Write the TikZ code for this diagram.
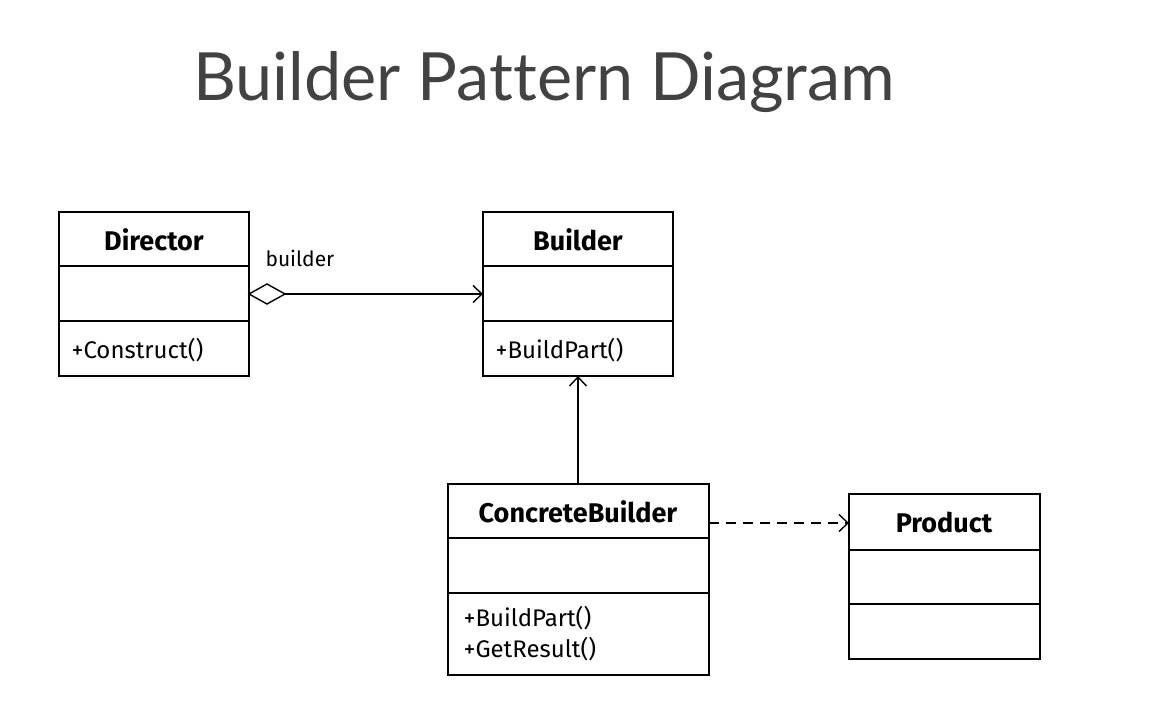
\documentclass[tikz,border=0pt]{standalone}
\usepackage{fontspec}
\setmainfont{Fira Sans}
\newfontfamily\titlefont{Lato}[Ligatures={NoCommon,NoRare}]
\usetikzlibrary{arrows.meta}
\definecolor{titlegray}{HTML}{424242}
\begin{document}
\begin{tikzpicture}[x=1pt,y=-1pt,
  boxline/.style={line width=1.8pt,black},
  cname/.style={font=\fontsize{27}{30}\selectfont\bfseries,anchor=center},
  mname/.style={font=\fontsize{24}{31}\selectfont,anchor=west,align=left},
  conn/.style={line width=1.4pt},
  openarr/.style={-{Straight Barb[length=9pt,width=17pt,line width=1.4pt]}}]
\useasboundingbox (0,0) rectangle (1176,722);
\fill[white] (0,0) rectangle (1176,722);
\node[font=\titlefont\fontsize{66.5}{72}\selectfont,text=titlegray,anchor=base west,inner sep=0pt] (title) at (193,101) {Builder Pattern Diagram};
% Director
\draw[boxline] (59,212) rectangle (249,376);
\draw[boxline] (59,266) -- (249,266);
\draw[boxline] (59,321) -- (249,321);
\node[cname] (dir) at (154,240) {Director};
\node[mname] (dirm) at (68,350) {+Construct()};
\coordinate (dirR) at (249,294);
\coordinate (dirD) at (285,294);
% Builder
\draw[boxline] (483,212) rectangle (673,376);
\draw[boxline] (483,266) -- (673,266);
\draw[boxline] (483,321) -- (673,321);
\node[cname] (bld) at (578,240) {Builder};
\node[mname] (bldm) at (492,350) {+BuildPart()};
\coordinate (bldL) at (483,294);
\coordinate (bldB) at (578,376);
% ConcreteBuilder
\draw[boxline] (448,484) rectangle (709,675);
\draw[boxline] (448,538) -- (709,538);
\draw[boxline] (448,593) -- (709,593);
\node[cname] (cb) at (578,512) {ConcreteBuilder};
\node[mname] (cbm) at (460,634) {+BuildPart()\\+GetResult()};
\coordinate (cbT) at (578,484);
\coordinate (cbR) at (709,523);
% Product
\draw[boxline] (849,494) rectangle (1040,659);
\draw[boxline] (849,550) -- (1040,550);
\draw[boxline] (849,604) -- (1040,604);
\node[cname] (prod) at (944,522) {Product};
\coordinate (prodL) at (849,523);
% connectors
\draw[conn] (dirR) -- ++(18,-10) -- ++(18,10) -- ++(-18,10) -- cycle;
\draw[conn,openarr] (dirD) -- (bldL);
\node[font=\fontsize{21}{24}\selectfont,anchor=west] (lbl) at (262,258) {builder};
\draw[conn,openarr] (cbT) -- (bldB);
\draw[conn,openarr,dash pattern=on 10pt off 7pt] (cbR) -- (prodL);
\end{tikzpicture}
\end{document}
